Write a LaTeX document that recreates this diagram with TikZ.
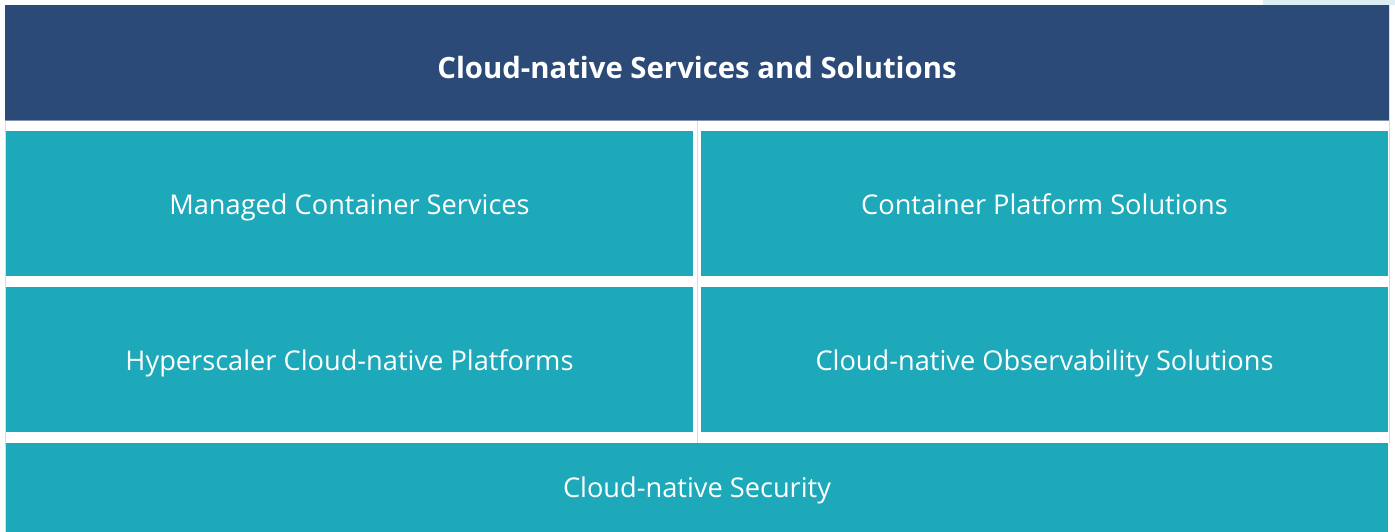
\documentclass[tikz,border=0pt]{standalone}
\usepackage{fontspec}
\setmainfont{Open Sans}
\definecolor{hdr}{HTML}{2B4A78}
\definecolor{teal}{HTML}{1DA9B9}
\definecolor{pale}{HTML}{DAEEF3}
\definecolor{grid}{HTML}{C8E3EA}
\tikzset{
  celltext/.style={text=white, anchor=base, inner sep=0pt, font=\fontsize{27.2}{32}\selectfont},
  headtext/.style={text=white, anchor=base, inner sep=0pt, font=\bfseries\fontsize{29.3}{34}\selectfont},
}
\begin{document}
\begin{tikzpicture}[x=1pt,y=-1pt]
\useasboundingbox (0,0) rectangle (1395,532);
\fill[white] (0,0) rectangle (1395,532);
\fill[pale] (1263,0) rectangle (1395,5);
% faint grid lines
\draw[grid, line width=0.8pt] (5.5,5) -- (5.5,532);
\draw[grid, line width=0.8pt] (697,120) -- (697,443);
\draw[grid, line width=0.8pt] (1389.5,5) -- (1389.5,443);
% header
\fill[hdr] (5,5) rectangle (1389,120);
\draw[hdr!60!white, line width=0.8pt] (5,120) -- (1389,120);
\node[headtext] (title) at (697,78.5) {Cloud-native Services and Solutions};
% cells
\fill[teal] (6,131) rectangle (693,276);
\node[celltext] (mcs) at (349.5,214) {Managed Container Services};
\fill[teal] (701,131) rectangle (1388,276);
\node[celltext] (cps) at (1044.5,214) {Container Platform Solutions};
\fill[teal] (6,287) rectangle (693,432);
\node[celltext] (hcp) at (349.5,370) {Hyperscaler Cloud-native Platforms};
\fill[teal] (701,287) rectangle (1388,432);
\node[celltext] (cos) at (1044.5,370) {Cloud-native Observability Solutions};
\fill[teal] (6,443) rectangle (1388,532);
\node[celltext] (cns) at (697,497) {Cloud-native Security};
\end{tikzpicture}
\end{document}
